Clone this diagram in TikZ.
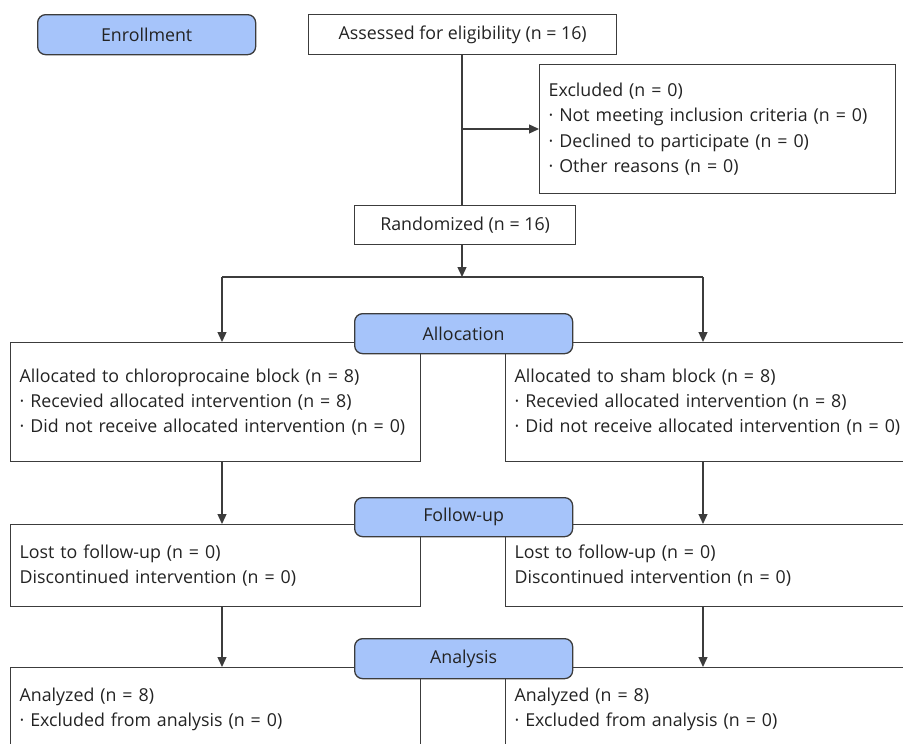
\documentclass[tikz,border=0pt]{standalone}
\usepackage{fontspec}
\setmainfont{Open Sans}
\usetikzlibrary{arrows.meta,calc}
\definecolor{stagefill}{RGB}{166,196,250}
\definecolor{linecol}{RGB}{60,60,60}
\definecolor{textcol}{RGB}{35,35,35}
\begin{document}
\begin{tikzpicture}[x=1pt,y=-1pt,
  every node/.style={font=\fontsize{17.8}{25.3}\selectfont, text=textcol},
  stage/.style={draw=linecol, line width=1.3pt, fill=stagefill, rounded corners=8pt,
    minimum height=40pt, inner sep=0pt, anchor=north west},
  plainbox/.style={draw=linecol, line width=1.3pt, fill=white, inner sep=0pt,
    anchor=north west},
  listbox/.style={draw=linecol, line width=1.3pt, fill=white, anchor=north west,
    align=left, inner xsep=9pt, inner ysep=0pt},
  conn/.style={draw=linecol, line width=1.3pt},
  arr/.style={conn, -{Triangle[length=10pt,width=9pt]}}
]
\useasboundingbox (0,0) rectangle (903,744);
\clip (0,0) rectangle (903,744);

% enrollment
\node[stage, minimum width=218pt] (enroll) at (37,14) {Enrollment};
\node[plainbox, minimum width=308pt, minimum height=40pt] (assess) at (308,14) {Assessed for eligibility (n = 16)};
\node[listbox, text width=338pt, minimum height=129pt] (excl) at (539,64)
  {Excluded (n = 0)\\· Not meeting inclusion criteria (n = 0)\\· Declined to participate (n = 0)\\· Other reasons (n = 0)};
\node[plainbox, minimum width=221pt, minimum height=39pt] (rand) at (354,205) {Randomized (n = 16)};

\coordinate (midx) at (462,0);
\coordinate (cl) at (222,0);
\coordinate (cr) at (703,0);
\coordinate (split) at (462,277);
\coordinate (exclfrom) at (462,129);

\draw[conn] (assess.south -| midx) -- (rand.north -| midx);
\draw[arr] (exclfrom) -- (excl.west |- exclfrom);
\draw[arr] (rand.south -| midx) -- (split);
\draw[conn] (split -| cl) -- (split -| cr);

% allocation
\node[listbox, text width=392pt, minimum height=119pt] (L1) at (10,342)
  {Allocated to chloroprocaine block (n = 8)\\· Recevied allocated intervention (n = 8)\\· Did not receive allocated intervention (n = 0)};
\node[listbox, text width=387pt, minimum height=119pt] (R1) at (505,342)
  {Allocated to sham block (n = 8)\\· Recevied allocated intervention (n = 8)\\· Did not receive allocated intervention (n = 0)};
\draw[arr] (split -| cl) -- (L1.north -| cl);
\draw[arr] (split -| cr) -- (R1.north -| cr);
\node[stage, minimum width=218pt] (alloc) at (354,313) {Allocation};

% follow-up
\node[listbox, text width=392pt, minimum height=82pt] (L2) at (10,524)
  {Lost to follow-up (n = 0)\\Discontinued intervention (n = 0)};
\node[listbox, text width=387pt, minimum height=82pt] (R2) at (505,524)
  {Lost to follow-up (n = 0)\\Discontinued intervention (n = 0)};
\draw[arr] (L1.south -| cl) -- (L2.north -| cl);
\draw[arr] (R1.south -| cr) -- (R2.north -| cr);
\node[stage, minimum width=218pt, minimum height=39pt] (follow) at (354,497) {Follow-up};

% analysis
\node[listbox, text width=392pt, minimum height=83pt] (L3) at (10,667)
  {Analyzed (n = 8)\\· Excluded from analysis (n = 0)};
\node[listbox, text width=387pt, minimum height=83pt] (R3) at (505,667)
  {Analyzed (n = 8)\\· Excluded from analysis (n = 0)};
\draw[arr] (L2.south -| cl) -- (L3.north -| cl);
\draw[arr] (R2.south -| cr) -- (R3.north -| cr);
\node[stage, minimum width=218pt] (analysis) at (354,638) {Analysis};
\end{tikzpicture}
\end{document}
